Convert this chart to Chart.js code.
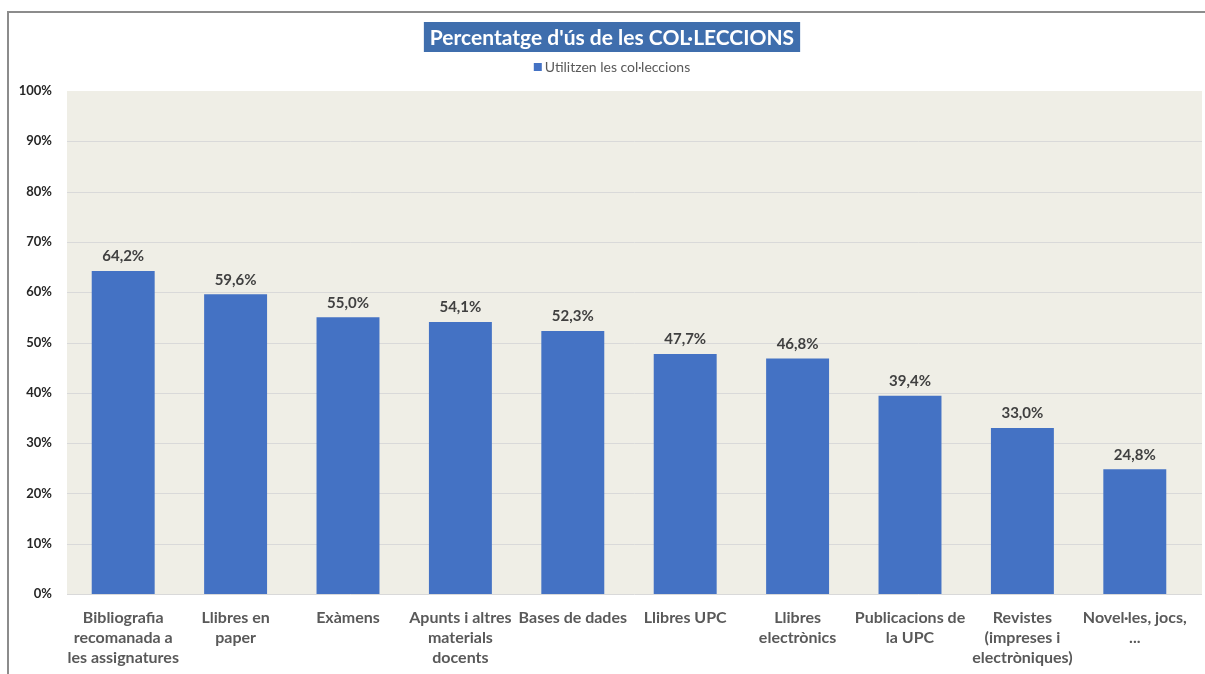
<!DOCTYPE html>
<html>
<head>
<meta charset="utf-8">
<script src="https://cdn.jsdelivr.net/npm/chart.js@4"></script>
<style>
  html, body { margin: 0; padding: 0; background: #ffffff; }
  #wrap { width: 1205px; height: 674px; position: relative; }
</style>
</head>
<body>
<div id="wrap"><canvas id="graph"></canvas></div>
<script>
const chartTitle = "Percentatge d'ús de les COL·LECCIONS";
const seriesName = "Utilitzen les col·leccions";

const categories = [
  ["Bibliografia", "recomanada a", "les assignatures"],
  ["Llibres en", "paper"],
  ["Exàmens"],
  ["Apunts i altres", "materials", "docents"],
  ["Bases de dades"],
  ["Llibres UPC"],
  ["Llibres", "electrònics"],
  ["Publicacions de", "la UPC"],
  ["Revistes", "(impreses i", "electròniques)"],
  ["Novel·les, jocs,", "..."]
];
const usage = [64.2, 59.6, 55.0, 54.1, 52.3, 47.7, 46.8, 39.4, 33.0, 24.8];
const yTicks = [0, 10, 20, 30, 40, 50, 60, 70, 80, 90, 100];

const FONT = "Lato, 'Liberation Sans', sans-serif";
const fmt = v => v.toFixed(1).replace('.', ',') + '%';

// frame, title box and legend
const decorPlugin = {
  id: 'decor',
  beforeDraw(chart) {
    const c = chart.ctx;
    c.save();
    c.fillStyle = '#ffffff';
    c.fillRect(0, 0, chart.width, chart.height);
    c.strokeStyle = '#8c8c8c';
    c.lineWidth = 2;
    c.beginPath();
    c.moveTo(8, chart.height);
    c.lineTo(8, 12);
    c.lineTo(chart.width, 12);
    c.stroke();

    // title
    c.font = "bold 21px " + FONT;
    const tw = c.measureText(chartTitle).width;
    const cx = 612;
    c.fillStyle = '#3f6ead';
    c.fillRect(cx - tw / 2 - 6, 22, tw + 12, 30);
    c.fillStyle = '#ffffff';
    c.textAlign = 'center';
    c.textBaseline = 'middle';
    c.fillText(chartTitle, cx, 38);

    // legend
    c.font = "14px " + FONT;
    const lw = c.measureText(seriesName).width;
    const lx = cx - (lw + 11) / 2;
    c.fillStyle = '#4472c4';
    c.fillRect(lx, 63, 8, 8);
    c.fillStyle = '#595959';
    c.textAlign = 'left';
    c.fillText(seriesName, lx + 11, 67.5);
    c.restore();
  },
  beforeDatasetsDraw(chart) {
    const c = chart.ctx;
    const a = chart.chartArea;
    const y = chart.scales.y;
    const right = chart.width - 3;
    c.save();
    c.fillStyle = '#efeee6';
    c.fillRect(a.left, a.top, right - a.left, a.bottom - a.top);
    c.strokeStyle = '#d9d9d9';
    c.lineWidth = 1;
    yTicks.forEach(t => {
      if (t === 100) return;
      const py = Math.round(y.getPixelForValue(t)) + 0.5;
      c.beginPath();
      c.moveTo(a.left, py);
      c.lineTo(right, py);
      c.stroke();
    });
    c.restore();
  },
  afterDatasetsDraw(chart) {
    const c = chart.ctx;
    const meta = chart.getDatasetMeta(0);
    c.save();
    c.font = "bold 15px " + FONT;
    c.fillStyle = '#404040';
    c.textAlign = 'center';
    c.textBaseline = 'bottom';
    meta.data.forEach((bar, i) => {
      c.fillText(fmt(usage[i]), bar.x, bar.y - 7);
    });
    c.restore();
  }
};

const ctx = document.getElementById('graph').getContext('2d');
new Chart(ctx, {
  type: 'bar',
  data: {
    labels: categories,
    datasets: [{
      label: seriesName,
      data: usage,
      backgroundColor: '#4472c4',
      borderWidth: 0,
      barPercentage: 0.56,
      categoryPercentage: 1.0
    }]
  },
  options: {
    responsive: true,
    maintainAspectRatio: false,
    animation: false,
    devicePixelRatio: 1,
    layout: { padding: { top: 91, right: 14, left: 0, bottom: 0 } },
    plugins: {
      legend: { display: false },
      title: { display: false },
      tooltip: { enabled: false }
    },
    scales: {
      x: {
        grid: { display: false, drawTicks: false },
        border: { display: false },
        ticks: {
          autoSkip: false,
          maxRotation: 0,
          padding: 14,
          color: '#595959',
          font: { family: FONT, size: 16, weight: 'bold', lineHeight: 1.25 }
        },
        afterFit(scale) { scale.height = 80; }
      },
      y: {
        min: 0,
        max: 100,
        grid: { display: false, drawTicks: false },
        border: { display: false },
        ticks: {
          stepSize: 10,
          padding: 15,
          color: '#262626',
          font: { family: FONT, size: 13, weight: 'bold' },
          callback: v => v + '%'
        },
        afterFit(scale) { scale.width = 67; }
      }
    }
  },
  plugins: [decorPlugin]
});
</script>
</body>
</html>
